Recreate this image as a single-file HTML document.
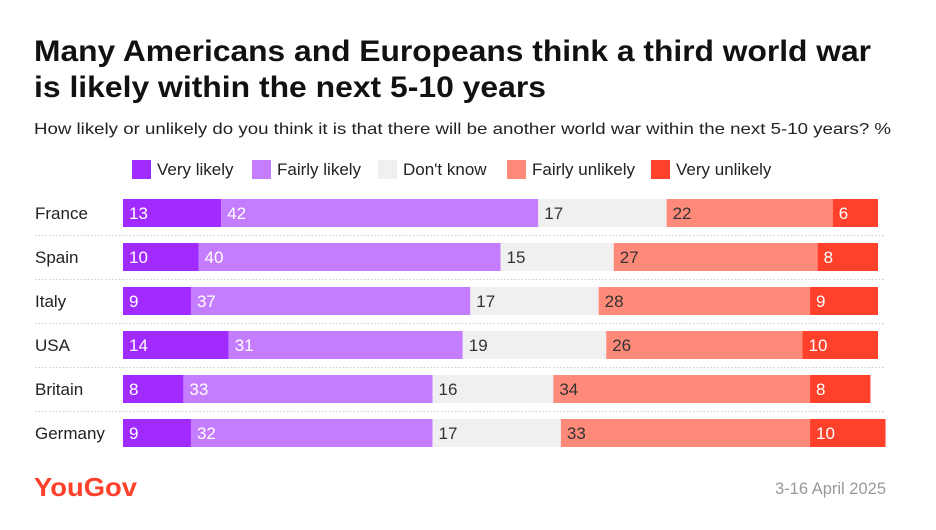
<!DOCTYPE html>
<html><head><meta charset="utf-8"><style>
body{margin:0;background:#fff;}
svg{display:block;font-family:"Liberation Sans",sans-serif;}
</style></head><body>
<svg id="chart" width="936" height="530" viewBox="0 0 936 530">
<text x="34" y="61" font-size="30" font-weight="bold" fill="#111" textLength="837" lengthAdjust="spacingAndGlyphs">Many Americans and Europeans think a third world war</text>
<text x="34" y="97" font-size="30" font-weight="bold" fill="#111" textLength="512" lengthAdjust="spacingAndGlyphs">is likely within the next 5-10 years</text>
<text x="34" y="134" font-size="16" fill="#222" textLength="857" lengthAdjust="spacingAndGlyphs">How likely or unlikely do you think it is that there will be another world war within the next 5-10 years? %</text>
<g id="legend"></g>
<g id="rows"></g>
<text x="34" y="496" font-size="26" font-weight="bold" fill="#ff412c" textLength="103" lengthAdjust="spacingAndGlyphs">YouGov</text>
<text x="886" y="494" font-size="16.5" fill="#999" text-anchor="end">3-16 April 2025</text>
</svg>
<script>
const categories=["France","Spain","Italy","USA","Britain","Germany"];
const seriesNames=["Very likely","Fairly likely","Don't know","Fairly unlikely","Very unlikely"];
const veryLikely=[13,10,9,14,8,9];
const fairlyLikely=[42,40,37,31,33,32];
const dontKnow=[17,15,17,19,16,17];
const fairlyUnlikely=[22,27,28,26,34,33];
const veryUnlikely=[6,8,9,10,8,10];
const series=[veryLikely,fairlyLikely,dontKnow,fairlyUnlikely,veryUnlikely];
const colors=["#a02aff","#c57dff","#f0f0f0","#ff8a7a","#ff412c"];
const textColors=["#fff","#fff","#333","#333","#fff"];
const NS="http://www.w3.org/2000/svg";
const x0=123, unit=7.55, rowTop=199, pitch=44, barH=28;
const xs=v=>v*unit;
const legend=document.getElementById('legend');
const legX=[132,252,378,507,651];
seriesNames.forEach((n,i)=>{
  const r=document.createElementNS(NS,'rect');
  r.setAttribute('x',legX[i]);r.setAttribute('y',160);r.setAttribute('width',19);r.setAttribute('height',19);r.setAttribute('fill',colors[i]);
  
  
  legend.appendChild(r);
  const t=document.createElementNS(NS,'text');
  t.setAttribute('x',legX[i]+25);t.setAttribute('y',175);t.setAttribute('font-size',17);t.setAttribute('fill','#222');
  t.textContent=n;
  
  
  legend.appendChild(t);
});
const rows=document.getElementById('rows');
categories.forEach((c,ri)=>{
  const y=rowTop+ri*pitch;
  const lab=document.createElementNS(NS,'text');
  lab.setAttribute('x',35);lab.setAttribute('y',y+20);lab.setAttribute('font-size',17);lab.setAttribute('fill','#222');
  lab.textContent=c;
  
  
  rows.appendChild(lab);
  if(ri<categories.length-1){
    const l=document.createElementNS(NS,'line');
    l.setAttribute('x1',35);l.setAttribute('x2',885);l.setAttribute('y1',y+36.5);l.setAttribute('y2',y+36.5);
    l.setAttribute('stroke','#ccc');l.setAttribute('stroke-dasharray','1.5,2');
    
    
    rows.appendChild(l);
  }
  let acc=0;
  series.forEach((s,si)=>{
    const v=s[ri];
    const r=document.createElementNS(NS,'rect');
    r.setAttribute('x',x0+xs(acc));r.setAttribute('y',y);r.setAttribute('width',xs(v));r.setAttribute('height',barH);r.setAttribute('fill',colors[si]);
    
    
    rows.appendChild(r);
    const t=document.createElementNS(NS,'text');
    t.setAttribute('x',x0+xs(acc)+6);t.setAttribute('y',y+20);t.setAttribute('font-size',17);t.setAttribute('fill',textColors[si]);
    t.textContent=v;
    
    
    rows.appendChild(t);
    acc+=v;
  });
});
</script>
</body></html>
